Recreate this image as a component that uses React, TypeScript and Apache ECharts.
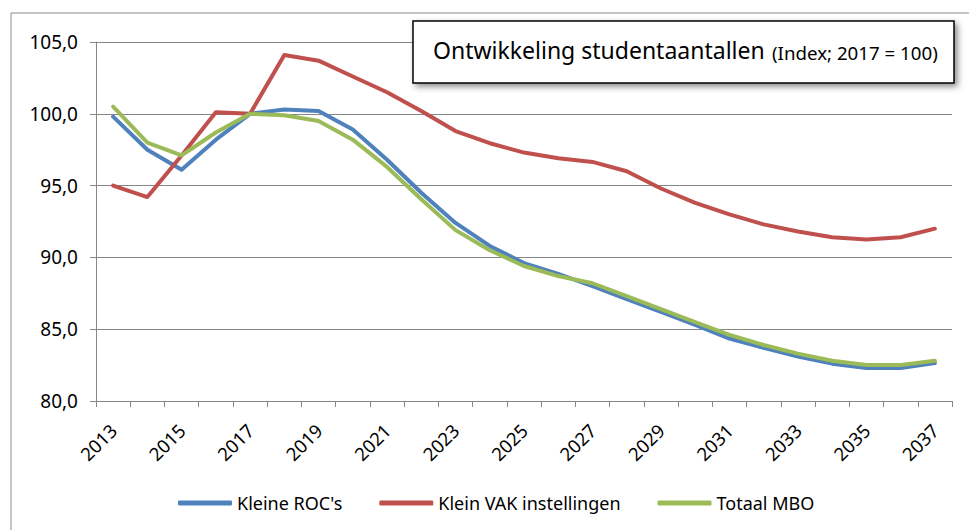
import React, { useEffect, useRef } from "react";
import * as echarts from "echarts";

const years = ["2013","2014","2015","2016","2017","2018","2019","2020","2021","2022","2023","2024","2025","2026","2027","2028","2029","2030","2031","2032","2033","2034","2035","2036","2037"];
const kleineROC = [99.8, 97.5, 96.1, 98.2, 100.0, 100.3, 100.2, 98.9, 96.8, 94.5, 92.4, 90.8, 89.6, 88.85, 88.0, 87.1, 86.2, 85.3, 84.35, 83.7, 83.1, 82.6, 82.3, 82.3, 82.65];
const kleinVAK = [95.0, 94.2, 97.1, 100.1, 100.0, 104.1, 103.7, 102.6, 101.5, 100.2, 98.8, 97.95, 97.3, 96.9, 96.65, 96.0, 94.8, 93.8, 93.0, 92.3, 91.8, 91.4, 91.25, 91.4, 92.0];
const totaalMBO = [100.5, 98.0, 97.1, 98.7, 100.0, 99.9, 99.5, 98.2, 96.3, 94.05, 91.9, 90.5, 89.4, 88.7, 88.2, 87.3, 86.4, 85.5, 84.6, 83.9, 83.3, 82.8, 82.5, 82.5, 82.8];
const seriesNames = ["Kleine ROC's", "Klein VAK instellingen", "Totaal MBO"];
const colors = ["#4F81BD", "#C0504D", "#9BBB59"];
const titleMain = "Ontwikkeling studentaantallen";
const titleSub = "(Index; 2017 = 100)";

const FONT = "Noto Sans";
const GRAY = "#868686";

export default function App() {
  const ref = useRef<HTMLDivElement>(null);
  useEffect(() => {
    if (!ref.current) return;
    const chart = echarts.init(ref.current, null, { renderer: "svg" });
    const data = [kleineROC, kleinVAK, totaalMBO];
    chart.setOption({
      animation: false,
      backgroundColor: "#ffffff",
      textStyle: { fontFamily: FONT },
      grid: { left: 96, right: 17, top: 42, bottom: 129, containLabel: false, outerBoundsMode: "none" },
      xAxis: {
        type: "category",
        data: years,
        boundaryGap: true,
        axisLine: { show: true, lineStyle: { color: GRAY, width: 1 } },
        axisTick: { show: true, interval: 0, length: 6, inside: false, lineStyle: { color: GRAY } },
        axisLabel: { interval: 1, rotate: 45, fontSize: 18.5, color: "#000", fontFamily: FONT, margin: 26 },
        splitLine: { show: false },
      },
      yAxis: {
        type: "value",
        min: 80,
        max: 105,
        interval: 5,
        axisLine: { show: true, lineStyle: { color: GRAY, width: 1 } },
        axisTick: { show: true, length: 6, inside: false, lineStyle: { color: GRAY } },
        axisLabel: { fontSize: 19, color: "#000", fontFamily: FONT, margin: 18, formatter: (v: number) => v.toFixed(1).replace(".", ",") },
        splitLine: { show: true, lineStyle: { color: GRAY, width: 1 } },
      },
      legend: {
        bottom: 13,
        left: 173,
        itemGap: 37,
        itemWidth: 54,
        itemHeight: 5,
        icon: "roundRect",
        textStyle: { fontSize: 18, color: "#000", fontFamily: FONT },
        data: seriesNames,
      },
      series: seriesNames.map((n, i) => ({
        name: n,
        type: "line",
        data: data[i],
        symbol: "none",
        smooth: false,
        color: colors[i],
        lineStyle: { width: 4, color: colors[i], cap: "round", join: "round" },
      })),
      graphic: [
        {
          type: "rect",
          z: -10,
          silent: true,
          shape: { x: 11, y: 13, width: 1000, height: 600 },
          style: { fill: "none", stroke: "#8c8c8c", lineWidth: 1 },
        },
        {
          type: "rect",
          z: 100,
          shape: { x: 413, y: 21, width: 541, height: 62 },
          style: { fill: "#fff", stroke: "#000", lineWidth: 1.5, shadowBlur: 6, shadowOffsetX: 3, shadowOffsetY: 3, shadowColor: "rgba(0,0,0,0.45)" },
        },
        {
          type: "text",
          z: 101,
          x: 433,
          y: 50,
          style: { text: titleMain, fontSize: 23, fontFamily: FONT, fill: "#000", verticalAlign: "middle", align: "left" },
        },
        {
          type: "text",
          z: 101,
          x: 772,
          y: 52,
          style: { text: titleSub, fontSize: 18.7, fontFamily: FONT, fill: "#000", verticalAlign: "middle", align: "left" },
        },
      ],
    });
    return () => chart.dispose();
  }, []);
  return <div ref={ref} style={{ position: "absolute", left: 0, top: 0, width: 969, height: 530 }} />;
}
